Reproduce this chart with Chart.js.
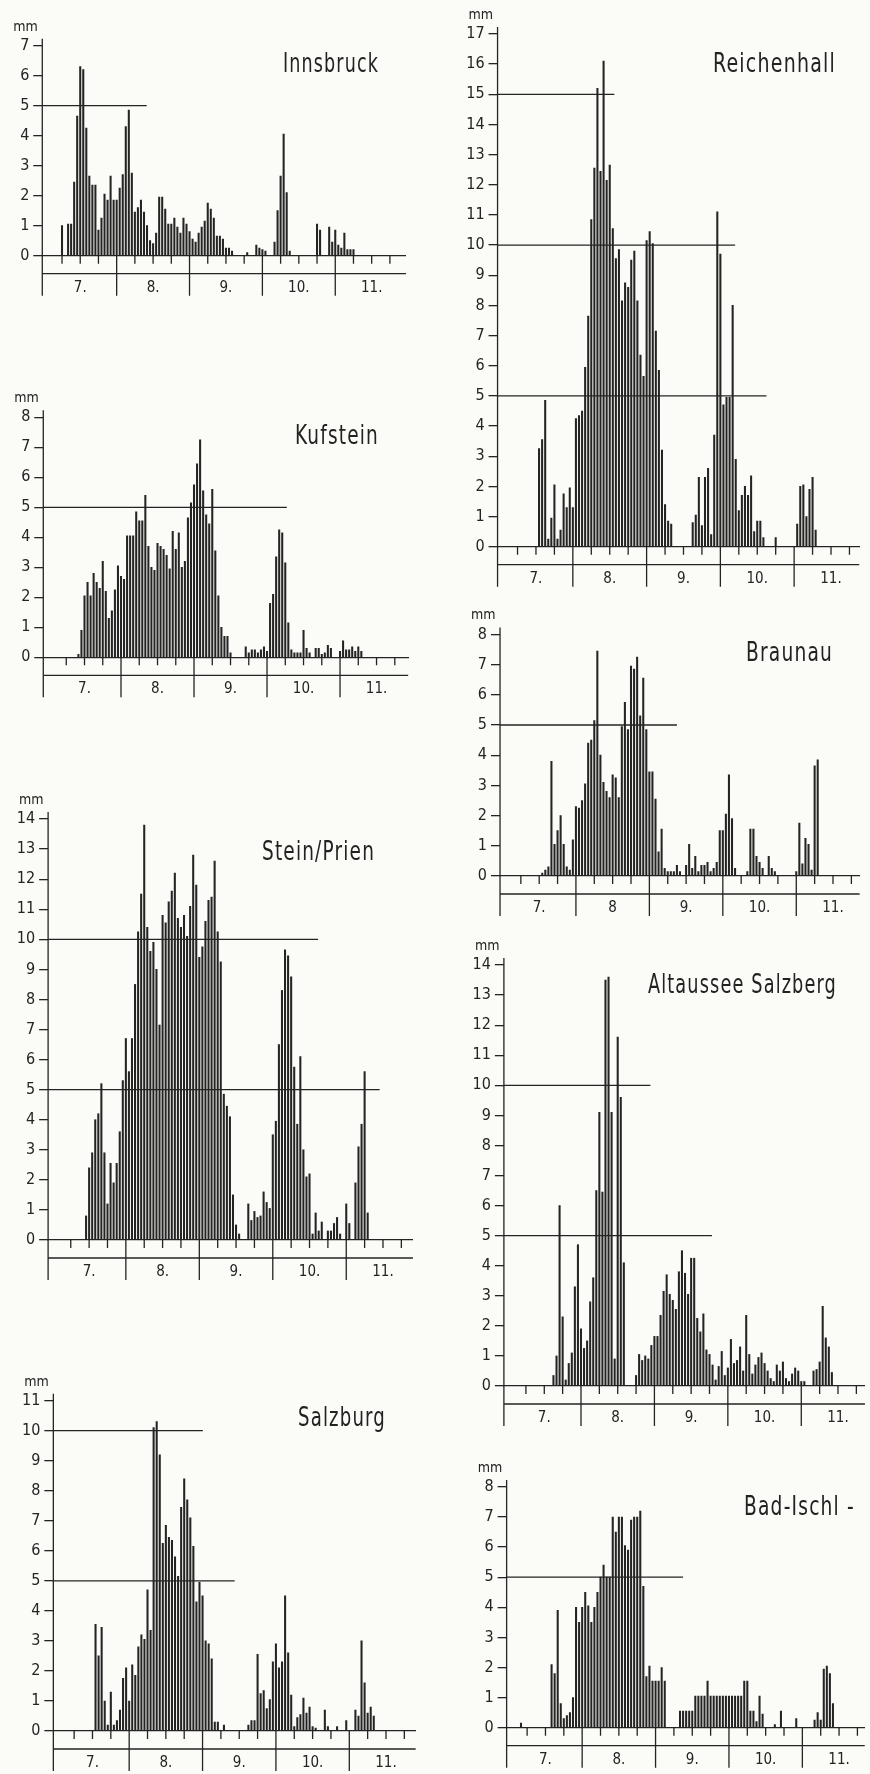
<!DOCTYPE html>
<html>
<head>
<meta charset="utf-8">
<script src="https://cdn.jsdelivr.net/npm/chart.js@4.4.1/dist/chart.umd.min.js"></script>
<style>
  html, body { margin: 0; padding: 0; background: #fbfbf7; }
  body { width: 870px; height: 1774px; position: relative; overflow: hidden; }
  canvas { position: absolute; }
  .name, .unit {
    position: absolute; white-space: nowrap; line-height: 1; color: #222;
    font-family: 'DejaVu Sans Condensed', 'Liberation Sans Narrow', 'DejaVu Sans', sans-serif;
  }
  .name { font-size: 26px; letter-spacing: 1.5px; transform-origin: 0 50%; }
  .unit { font-size: 14px; }
</style>
</head>
<body>
<script>
// Daily precipitation (mm), July to November, 24 slots per month.
const monthLabels = ['7.', '8.', '9.', '10.', '11.'];
const braunauMonthLabels = ['7.', '8', '9.', '10.', '11.'];

const innsbruck = [
  0,0,0,0,0,0,1.0,0,1.05,1.05,2.45,4.65,
  6.3,6.2,4.25,2.65,2.35,2.35,0.85,1.25,2.05,1.85,2.65,1.85,
  1.85,2.25,2.7,4.3,4.85,2.75,1.45,1.6,1.85,1.45,1.0,0.5,
  0.4,0.75,1.95,1.95,1.55,1.05,1.05,1.25,0.95,0.75,1.25,1.05,
  0.8,0.55,0.45,0.75,0.95,1.15,1.75,1.55,1.25,0.65,0.65,0.55,
  0.25,0.25,0.15,0,0,0,0,0.1,0,0,0.35,0.25,
  0.2,0.15,0,0,0.45,1.5,2.65,4.05,2.1,0.15,0,0,
  0,0,0,0,0,0,1.05,0.85,0,0,0.95,0.45,
  0.85,0.35,0.25,0.75,0.2,0.2,0.2,0,0,0,0,0,
  0,0,0,0,0,0,0,0,0,0,0,0
];
const kufstein = [
  0,0,0,0,0,0,0,0,0,0,0.1,0.9,
  2.05,2.5,2.05,2.8,2.5,2.3,3.2,2.2,1.3,1.55,2.25,3.05,
  2.7,2.6,4.05,4.05,4.05,4.85,4.55,4.55,5.4,3.7,3.0,2.9,
  3.8,3.7,3.6,3.4,2.95,4.2,3.6,4.15,3.0,3.2,4.65,5.15,
  5.75,6.45,7.25,5.55,4.75,4.45,5.6,3.55,2.05,1.0,0.7,0.7,
  0.15,0,0,0,0,0.35,0.15,0.25,0.25,0.15,0.25,0.35,
  0.2,1.8,2.1,3.35,4.25,4.15,3.15,1.15,0.25,0.15,0.15,0.15,
  0.9,0.3,0.15,0,0.3,0.3,0.1,0.15,0.4,0.3,0,0,
  0.2,0.55,0.25,0.25,0.35,0.2,0.35,0.2,0,0,0,0,
  0,0,0,0,0,0,0,0,0,0,0,0
];
const steinPrien = [
  0,0,0,0,0,0,0,0,0,0,0,0.8,
  2.4,2.9,4.0,4.2,5.2,2.9,1.2,2.55,1.9,2.55,3.6,5.3,
  6.7,5.6,6.7,8.5,10.25,11.5,13.8,10.4,9.6,9.9,9.0,7.15,
  10.8,10.55,11.25,11.6,12.2,10.7,10.4,10.8,10.1,11.1,12.8,11.8,
  9.4,9.75,10.6,11.3,11.4,12.6,10.25,9.25,4.85,4.45,4.1,1.5,
  0.5,0.2,0,0,1.2,0.65,0.95,0.75,0.8,1.6,1.25,1.05,
  3.5,3.95,6.5,8.3,9.65,9.45,8.75,5.75,3.85,6.1,3.0,2.1,
  2.2,0.2,0.9,0.3,0.6,0,0.3,0.3,0.55,0.75,0.2,0,
  1.2,0.55,0,1.9,3.1,3.85,5.6,0.9,0,0,0,0,
  0,0,0,0,0,0,0,0,0,0,0,0
];
const salzburg = [
  0,0,0,0,0,0,0,0,0,0,0,0,
  0,3.55,2.5,3.45,1.0,0.2,1.3,0.2,0.35,0.7,1.75,2.1,
  1.0,2.2,1.85,2.8,3.2,3.05,4.7,3.35,10.1,10.3,9.2,6.25,
  6.85,6.45,6.35,5.8,5.15,7.45,8.4,7.7,7.1,6.15,4.3,4.95,
  4.5,3.0,2.9,2.4,0.3,0.3,0,0.2,0,0,0,0,
  0,0,0,0.2,0.35,0.35,2.55,1.25,1.35,0.75,1.05,2.3,
  2.9,2.1,2.3,4.5,2.6,1.2,0.15,0.45,0.55,1.1,0.6,0.8,
  0.15,0.1,0,0,0.7,0.15,0,0,0.15,0,0,0.35,
  0,0,0.7,0.5,3.0,1.6,0.6,0.8,0.5,0,0,0,
  0,0,0,0,0,0,0,0,0,0,0,0
];
const reichenhall = [
  0,0,0,0,0,0,0,0,0,0,0,0,
  0,3.25,3.55,4.85,0.25,0.95,2.05,0.25,0.55,1.75,1.3,1.95,
  1.3,4.25,4.35,4.5,5.95,7.65,10.85,12.55,15.2,12.45,16.1,12.15,
  12.65,10.55,9.55,9.85,8.15,8.75,8.6,9.5,9.8,8.15,6.35,5.65,
  10.15,10.45,10.05,7.15,5.85,3.2,1.4,0.85,0.75,0,0,0,
  0,0,0,0.8,1.05,2.3,0.7,2.3,2.6,0.4,3.7,11.1,
  9.7,4.7,4.95,4.95,8.0,2.9,1.2,1.7,2.0,1.7,2.35,0.5,
  0.85,0.85,0.3,0,0,0,0.3,0,0,0,0,0,
  0,0.75,2.0,2.05,1.0,1.9,2.3,0.55,0,0,0,0,
  0,0,0,0,0,0,0,0,0,0,0,0
];
const braunau = [
  0,0,0,0,0,0,0,0,0,0,0,0,
  0,0.1,0.2,0.3,3.8,1.05,1.5,2.0,1.05,0.3,0.2,1.2,
  2.3,2.25,2.5,3.05,4.4,4.5,5.15,7.45,4.0,3.1,2.8,2.6,
  3.35,3.25,2.6,4.95,5.75,4.85,6.95,6.85,7.25,5.3,6.55,4.85,
  3.45,3.45,2.55,0.8,1.55,0.25,0.15,0.15,0.15,0.35,0.15,0,
  0.35,1.05,0.25,0.65,0.15,0.35,0.35,0.45,0.15,0.25,0.45,1.5,
  1.5,2.05,3.35,1.9,0.25,0,0,0,0.15,1.55,1.55,0.65,
  0.45,0.25,0,0.65,0.25,0.15,0,0,0,0,0,0,
  0.15,1.75,0.4,1.25,1.05,0.2,3.65,3.85,0,0,0,0,
  0,0,0,0,0,0,0,0,0,0,0,0
];
const altaussee = [
  0,0,0,0,0,0,0,0,0,0,0,0,
  0,0,0,0.35,1.0,6.0,2.3,0.2,0.75,1.1,3.3,4.7,
  1.9,1.25,1.5,2.8,3.6,6.5,9.1,6.45,13.5,13.6,9.1,0.9,
  11.6,9.6,4.1,0,0,0,0.35,1.05,0.85,1.0,0.9,1.35,
  1.65,1.65,2.35,3.15,3.7,3.05,2.85,2.55,3.8,4.5,3.75,3.05,
  4.25,4.25,2.25,1.8,2.4,1.2,1.05,0.7,0.2,0.65,1.15,0.35,
  0.6,1.55,0.75,0.85,1.3,0.5,2.35,1.05,0.4,0.7,0.95,1.1,
  0.75,0.5,0.25,0.15,0.7,0.5,0.8,0.25,0.15,0.4,0.6,0.5,
  0.15,0.15,0,0,0.5,0.55,0.8,2.65,1.6,1.3,0.45,0,
  0,0,0,0,0,0,0,0,0,0,0,0
];
const badIschl = [
  0,0,0,0,0.15,0,0,0,0,0,0,0,
  0,0,2.1,1.8,3.9,0.8,0.3,0.4,0.5,1.0,4.0,3.5,
  4.0,4.5,4.05,3.5,4.0,4.5,5.0,5.4,5.0,5.0,7.0,6.5,
  7.0,7.0,6.05,5.9,6.9,7.0,7.0,7.2,4.7,1.7,2.05,1.55,
  1.55,1.55,2.0,1.55,0,0,0,0,0.55,0.55,0.55,0.55,
  0.55,1.05,1.05,1.05,1.05,1.55,1.05,1.05,1.05,1.05,1.05,1.05,
  1.05,1.05,1.05,1.05,1.05,1.55,1.55,0.55,0.55,0.2,1.05,0.45,
  0,0,0,0.1,0,0.55,0,0,0,0,0.3,0,
  0,0,0,0,0.25,0.5,0.25,1.95,2.05,1.8,0.8,0,
  0,0,0,0,0,0,0,0,0,0,0,0
];

// Panel definitions: station, value axis top, guide levels (value, last slot).
const panels = [
  { name: 'Innsbruck',          values: innsbruck,   top: 7,  guides: [[5, 33.9]],
    frame: { slot0: 43.8,  s: 3.036, xMin: -0.5,  xMax: 119.3, zeroY: 255.7,  mm: 30.0 },
    label: { x: 283, w: 96,  cy: 63 } },
  { name: 'Kufstein',           values: kufstein,    top: 8,  guides: [[5, 78.5]],
    frame: { slot0: 48.0,  s: 3.042, xMin: -1.55, xMax: 118.4, zeroY: 657.3,  mm: 30.0 },
    label: { x: 295, w: 84,  cy: 435 } },
  { name: 'Stein/Prien',        values: steinPrien,  top: 14, guides: [[10, 86.8], [5, 106.9]],
    frame: { slot0: 52.4,  s: 3.065, xMin: -1.4,  xMax: 117.8, zeroY: 1240,   mm: 30.07 },
    label: { x: 262, w: 113, cy: 851 } },
  { name: 'Salzburg',           values: salzburg,    top: 11, guides: [[10, 48.1], [5, 58.5]],
    frame: { slot0: 55.8,  s: 3.065, xMin: -0.8,  xMax: 117.7, zeroY: 1731,   mm: 30.03 },
    label: { x: 298, w: 88,  cy: 1417 } },
  { name: 'Reichenhall',        values: reichenhall, top: 17, guides: [[15, 37.5], [10, 76.8], [5, 87.0]],
    frame: { slot0: 499.1, s: 3.093, xMin: -0.5,  xMax: 117.2, zeroY: 546.7,  mm: 30.16 },
    label: { x: 713, w: 123, cy: 63 } },
  { name: 'Braunau',            values: braunau,     top: 8,  guides: [[5, 57.0]], months: braunauMonthLabels,
    frame: { slot0: 502.5, s: 3.092, xMin: -0.8,  xMax: 116.7, zeroY: 876,    mm: 30.2 },
    label: { x: 746, w: 87,  cy: 652 } },
  { name: 'Altaussee Salzberg', values: altaussee,   top: 14, guides: [[10, 46.7], [5, 66.8]],
    frame: { slot0: 507.6, s: 3.088, xMin: -1.2,  xMax: 116.8, zeroY: 1386,   mm: 30.07 },
    label: { x: 648, w: 189, cy: 984 } },
  { name: 'Bad-Ischl -',        values: badIschl,    top: 8,  guides: [[5, 57.0]],
    frame: { slot0: 508.8, s: 3.103, xMin: -0.7,  xMax: 116.4, zeroY: 1727.7, mm: 30.1 },
    label: { x: 744, w: 111, cy: 1506 } }
];

const INK = '#242424';
const FONT = "'DejaVu Sans Condensed', 'Liberation Sans Narrow', 'DejaVu Sans', sans-serif";
const SLOTS_PER_MONTH = 24;
const YW = 45, PT = 14, PR = 3, XH = 52;

// Draws the time axis furniture under the zero line: the extended value axis,
// week ticks, the lower rule and the month separators.
const axisFrame = {
  id: 'axisFrame',
  afterDraw(chart) {
    const { ctx, chartArea: a, scales: { x, y } } = chart;
    const z = y.getPixelForValue(0);
    ctx.save();
    ctx.strokeStyle = INK;
    ctx.lineWidth = 1.3;
    ctx.beginPath();
    ctx.moveTo(a.left, a.top - 7);
    ctx.lineTo(a.left, z + 40);
    ctx.moveTo(a.left, z + 18);
    ctx.lineTo(a.right, z + 18);
    for (let m = 1; m < monthLabels.length; m++) {
      const px = x.getPixelForValue(m * SLOTS_PER_MONTH);
      ctx.moveTo(px, z);
      ctx.lineTo(px, z + 40);
    }
    for (let v = 6; v < x.max - 1; v += 6) {
      if (v % SLOTS_PER_MONTH === 0) continue;
      const px = x.getPixelForValue(v);
      ctx.moveTo(px, z);
      ctx.lineTo(px, z + 8);
    }
    ctx.stroke();
    ctx.restore();
  }
};

function buildPanel(p) {
  const f = p.frame;
  const months = p.months || monthLabels;
  const axisX = f.slot0 + f.xMin * f.s;
  const endX = f.slot0 + f.xMax * f.s;
  const topY = f.zeroY - p.top * f.mm;
  const left = Math.floor(axisX - YW);
  const top = Math.floor(topY - PT);
  const right = Math.ceil(endX + PR);
  const bottom = Math.ceil(f.zeroY + XH);

  const canvas = document.createElement('canvas');
  canvas.width = right - left;
  canvas.height = bottom - top;
  canvas.style.left = left + 'px';
  canvas.style.top = top + 'px';
  document.body.appendChild(canvas);

  const bars = [];
  p.values.forEach((v, i) => { if (v > 0) bars.push({ x: i, y: v }); });

  const datasets = [{
    type: 'bar', data: bars, backgroundColor: INK, borderWidth: 0,
    barThickness: 1.4, order: 2
  }];
  p.guides.forEach(([level, until]) => {
    datasets.push({
      type: 'line', data: [{ x: f.xMin, y: level }, { x: until, y: level }],
      borderColor: INK, borderWidth: 1.3, pointRadius: 0, order: 1
    });
  });

  new Chart(canvas, {
    type: 'bar',
    data: { datasets },
    options: {
      responsive: false, animation: false, devicePixelRatio: 1, events: [],
      layout: { padding: {
        left: axisX - YW - left, top: topY - top,
        right: right - endX, bottom: bottom - (f.zeroY + XH)
      } },
      plugins: { legend: { display: false }, tooltip: { enabled: false } },
      scales: {
        x: {
          type: 'linear', min: f.xMin, max: f.xMax, offset: false,
          grid: { display: false, drawTicks: false, offset: false },
          border: { display: true, color: INK, width: 1.3 },
          afterBuildTicks: sc => {
            sc.ticks = months.map((_, i) => ({ value: i * SLOTS_PER_MONTH + SLOTS_PER_MONTH / 2 }));
          },
          afterFit: sc => { sc.height = XH; },
          ticks: {
            autoSkip: false, maxRotation: 0, padding: 23, color: INK,
            font: { family: FONT, size: 15 },
            callback: (v, i) => months[i]
          }
        },
        y: {
          min: 0, max: p.top,
          afterFit: sc => { sc.width = YW; },
          grid: { drawOnChartArea: false, drawTicks: true, tickLength: 9, color: INK, lineWidth: 1.3 },
          border: { display: false },
          ticks: { stepSize: 1, autoSkip: false, padding: 4, color: INK, font: { family: FONT, size: 16 } }
        }
      }
    },
    plugins: [axisFrame]
  });

  const unit = document.createElement('div');
  unit.className = 'unit';
  unit.textContent = 'mm';
  document.body.appendChild(unit);
  unit.style.left = (axisX - 29) + 'px';
  unit.style.top = (topY - 20 - unit.offsetHeight / 2) + 'px';

  const name = document.createElement('div');
  name.className = 'name';
  name.textContent = p.name;
  document.body.appendChild(name);
  const w = name.getBoundingClientRect().width;
  name.style.left = p.label.x + 'px';
  name.style.top = (p.label.cy - name.offsetHeight / 2) + 'px';
  name.style.transform = 'scaleX(' + (p.label.w / w).toFixed(3) + ')';
}

panels.forEach(buildPanel);
</script>
</body>
</html>
